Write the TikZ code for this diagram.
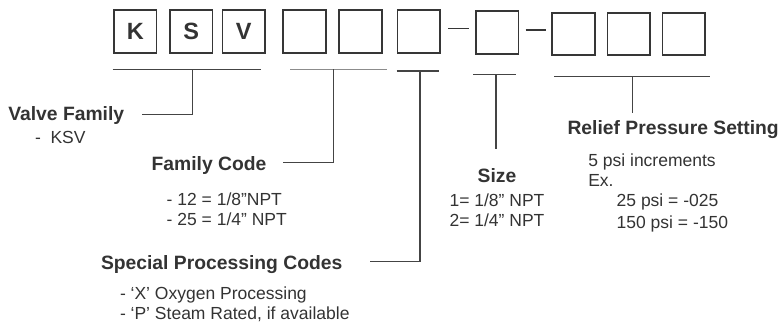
\documentclass[tikz,border=0pt]{standalone}
\usepackage{fontspec}
\setmainfont{Liberation Sans}
\definecolor{ink}{HTML}{333333}
\definecolor{boxc}{HTML}{363636}
\definecolor{linec}{HTML}{444444}
\definecolor{lightc}{HTML}{8C8C8C}
\begin{document}
\begin{tikzpicture}[x=1bp,y=-1bp,
  txt/.style={inner sep=0pt, outer sep=0pt, text=ink, font=\fontsize{17.5bp}{20bp}\selectfont},
  hdr/.style={inner sep=0pt, outer sep=0pt, text=ink, font=\fontsize{19.3bp}{22bp}\selectfont\bfseries},
  cbox/.style={draw=boxc, line width=1.6bp, minimum size=42.5bp, inner sep=0pt, text=ink, font=\fontsize{23.5bp}{25bp}\selectfont\bfseries},
  conn/.style={draw=linec, line width=1.1bp},
  lightconn/.style={draw=lightc, line width=1.4bp},
  dashline/.style={draw=boxc, line width=1.6bp}
]
\useasboundingbox (0,0) rectangle (783,325);
% code boxes
\node[cbox] (b1) at (135.3,31.5) {K};
\node[cbox] (b2) at (191.3,31.5) {S};
\node[cbox] (b3) at (243.7,31.5) {V};
\node[cbox] (b4) at (304.5,31.5) {};
\node[cbox] (b5) at (360.5,31.5) {};
\node[cbox] (b6) at (418.8,31.5) {};
\node[cbox] (b7) at (497.3,32.5) {};
\node[cbox] (b8) at (573.5,34) {};
\node[cbox] (b9) at (628.7,34) {};
\node[cbox] (b10) at (683.7,34) {};
% separators
\coordinate (d1a) at (448.3,28.5);
\coordinate (d1b) at (469.3,28.5);
\coordinate (d2a) at (525.7,30);
\coordinate (d2b) at (546,30);
\draw[dashline] (d1a) -- (d1b);
\draw[dashline] (d2a) -- (d2b);
% labels
\node[hdr, anchor=base west] (vf) at (8.3,120.7) {Valve Family};
\node[txt, anchor=base west] (vf1) at (35,143.3) {-\ \ KSV};
\node[hdr, anchor=base west] (fc) at (151.7,170.7) {Family Code};
\node[txt, anchor=base west] (fc1) at (166.7,205) {- 12 = 1/8”NPT};
\node[txt, anchor=base west] (fc2) at (166.7,225) {- 25 = 1/4” NPT};
\node[hdr, anchor=base west] (sp) at (101,269.3) {Special Processing Codes};
\node[txt, anchor=base west] (sp1) at (120,299) {- ‘X’ Oxygen Processing};
\node[txt, anchor=base west] (sp2) at (120,319) {- ‘P’ Steam Rated, if available};
\node[hdr, anchor=base] (sz) at (497,182) {Size};
\node[txt, anchor=base] (sz1) at (497,206.5) {1= 1/8” NPT};
\node[txt, anchor=base] (sz2) at (497,226.5) {2= 1/4” NPT};
\node[hdr, anchor=base west] (rp) at (567.5,134) {Relief Pressure Setting};
\node[txt, anchor=base west] (rp1) at (588.3,166) {5 psi increments};
\node[txt, anchor=base west] (rp2) at (588.3,186) {Ex.};
\node[txt, anchor=base west] (rp3) at (616.7,206.7) {25 psi = -025};
\node[txt, anchor=base west] (rp4) at (616.7,228) {150 psi = -150};
% brackets
\coordinate (ksvL) at (112.7,69.3);
\coordinate (ksvR) at (260.7,69.3);
\coordinate (ksvM) at (192.5,69.3);
\coordinate (vfE) at (141.7,114.3);
\coordinate (fcL) at (290,69.3);
\coordinate (fcR) at (386.7,69.3);
\coordinate (fcM) at (333.5,69.3);
\coordinate (fcE) at (282.7,162.3);
\coordinate (spL) at (396.7,71);
\coordinate (spR) at (439.3,71);
\coordinate (spM) at (420,71);
\coordinate (spE) at (369.5,261.8);
\coordinate (szL) at (473.3,74.3);
\coordinate (szR) at (516,74.3);
\coordinate (szM) at (496,74.3);
\coordinate (szE) at (496,149.3);
\coordinate (rpL) at (554,76.7);
\coordinate (rpR) at (710,76.7);
\coordinate (rpM) at (632.7,76.7);
\coordinate (rpE) at (632.7,113.3);
\draw[conn] (ksvL) -- (ksvR);
\draw[conn] (ksvM) |- (vfE);
\draw[lightconn] (fcL) -- (fcR);
\draw[conn] (fcM) |- (fcE);
\draw[conn] (spL) -- (spR);
\draw[conn] (spM) |- (spE);
\draw[conn] (szL) -- (szR);
\draw[conn] (szM) -- (szE);
\draw[conn] (rpL) -- (rpR);
\draw[conn] (rpM) -- (rpE);
\end{tikzpicture}
\end{document}
